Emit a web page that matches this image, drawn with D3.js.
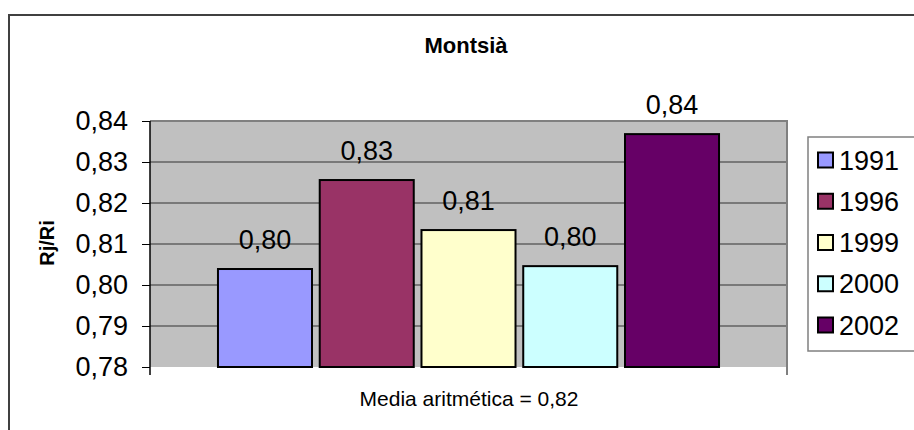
<!DOCTYPE html>
<html><head><meta charset="utf-8">
<script src="https://cdn.jsdelivr.net/npm/d3@7"></script>
<style>body{margin:0;background:#fff}svg{display:block}text{font-family:"Liberation Sans",Arial,sans-serif}</style>
</head><body>
<svg id="c" width="914" height="430"></svg>
<script>
const series = ["1991", "1996", "1999", "2000", "2002"];
const values = [0.8039, 0.8256, 0.8134, 0.8046, 0.8368];
const colors = ["#9999FF", "#993366", "#FFFFCC", "#CCFFFF", "#660066"];
const yTicks = [0.78, 0.79, 0.80, 0.81, 0.82, 0.83, 0.84];
const title = "Montsià";
const yTitle = "Rj/Ri";
const xTitle = "Media aritmética = 0,82";

const fmt = v => d3.format(".2f")(v).replace(".", ",");
const svg = d3.select("#c");

// outer frame
svg.append("rect").attr("x", 9).attr("y", 15).attr("width", 920).attr("height", 430)
  .attr("fill", "#fff").attr("stroke", "#404040").attr("stroke-width", 2);

const L = 150, R = 787, T = 121, B = 367;
const y = d3.scaleLinear().domain([0.78, 0.84]).range([B, T]);
const x = d3.scaleBand().domain(series).range([L, R]).paddingInner(0.076).paddingOuter(0.668);

// plot background
svg.append("rect").attr("x", L).attr("y", T).attr("width", R - L).attr("height", B - T).attr("fill", "#C0C0C0");

// gridlines
svg.append("g").selectAll("line").data(yTicks.slice(1)).join("line")
  .attr("x1", L).attr("x2", R).attr("y1", d => y(d)).attr("y2", d => y(d))
  .attr("stroke", "#333").attr("stroke-width", 1);

// plot border top/right
svg.append("path").attr("d", `M${L},${T}H${R}V${B}`).attr("fill", "none").attr("stroke", "#808080").attr("stroke-width", 2);

// bars
svg.append("g").selectAll("rect").data(series).join("rect")
  .attr("x", d => x(d)).attr("width", x.bandwidth())
  .attr("y", (d, i) => y(values[i])).attr("height", (d, i) => B - y(values[i]))
  .attr("fill", (d, i) => colors[i]).attr("stroke", "#000").attr("stroke-width", 2);

// value labels
svg.append("g").selectAll("text").data(series).join("text")
  .attr("x", d => x(d) + x.bandwidth() / 2).attr("y", (d, i) => y(values[i]) - 20)
  .attr("text-anchor", "middle").attr("font-size", 27).attr("fill", "#000")
  .text((d, i) => fmt(values[i]));

// y axis
const yAxis = d3.axisLeft(y).tickValues(yTicks).tickFormat(fmt).tickSize(8).tickPadding(14);
const ga = svg.append("g").attr("transform", `translate(${L},0)`).call(yAxis);
ga.select(".domain").attr("stroke", "#000").attr("stroke-width", 1.5).attr("d", `M0,${T}V${B + 8}`);
ga.selectAll(".tick line").attr("stroke", "#000");
ga.selectAll(".tick text").attr("font-size", 27).attr("fill", "#000").attr("font-family", "Liberation Sans, Arial, sans-serif");
ga.attr("font-family", null);

// bottom tick mark at right end
svg.append("line").attr("x1", R).attr("x2", R).attr("y1", B).attr("y2", B + 8).attr("stroke", "#000");

// titles
svg.append("text").attr("x", 466).attr("y", 53).attr("text-anchor", "middle")
  .attr("font-size", 22).attr("font-weight", "bold").text(title);
svg.append("text").attr("transform", "translate(54,243) rotate(-90)").attr("text-anchor", "middle")
  .attr("font-size", 20).attr("font-weight", "bold").text(yTitle);
svg.append("text").attr("x", 469).attr("y", 406).attr("text-anchor", "middle")
  .attr("font-size", 21).text(xTitle);

// legend
const lg = svg.append("g");
lg.append("rect").attr("x", 808).attr("y", 137).attr("width", 120).attr("height", 214)
  .attr("fill", "#fff").attr("stroke", "#808080").attr("stroke-width", 1.5);
const ly = d3.scalePoint().domain(series).range([160, 325]);
lg.selectAll("rect.sw").data(series).join("rect").attr("class", "sw")
  .attr("x", 818).attr("y", d => ly(d) - 7.5).attr("width", 15).attr("height", 15)
  .attr("fill", (d, i) => colors[i]).attr("stroke", "#000").attr("stroke-width", 2);
lg.selectAll("text").data(series).join("text")
  .attr("x", 839).attr("y", d => ly(d)).attr("dy", "0.36em")
  .attr("font-size", 27).text(d => d);
</script>
</body></html>
